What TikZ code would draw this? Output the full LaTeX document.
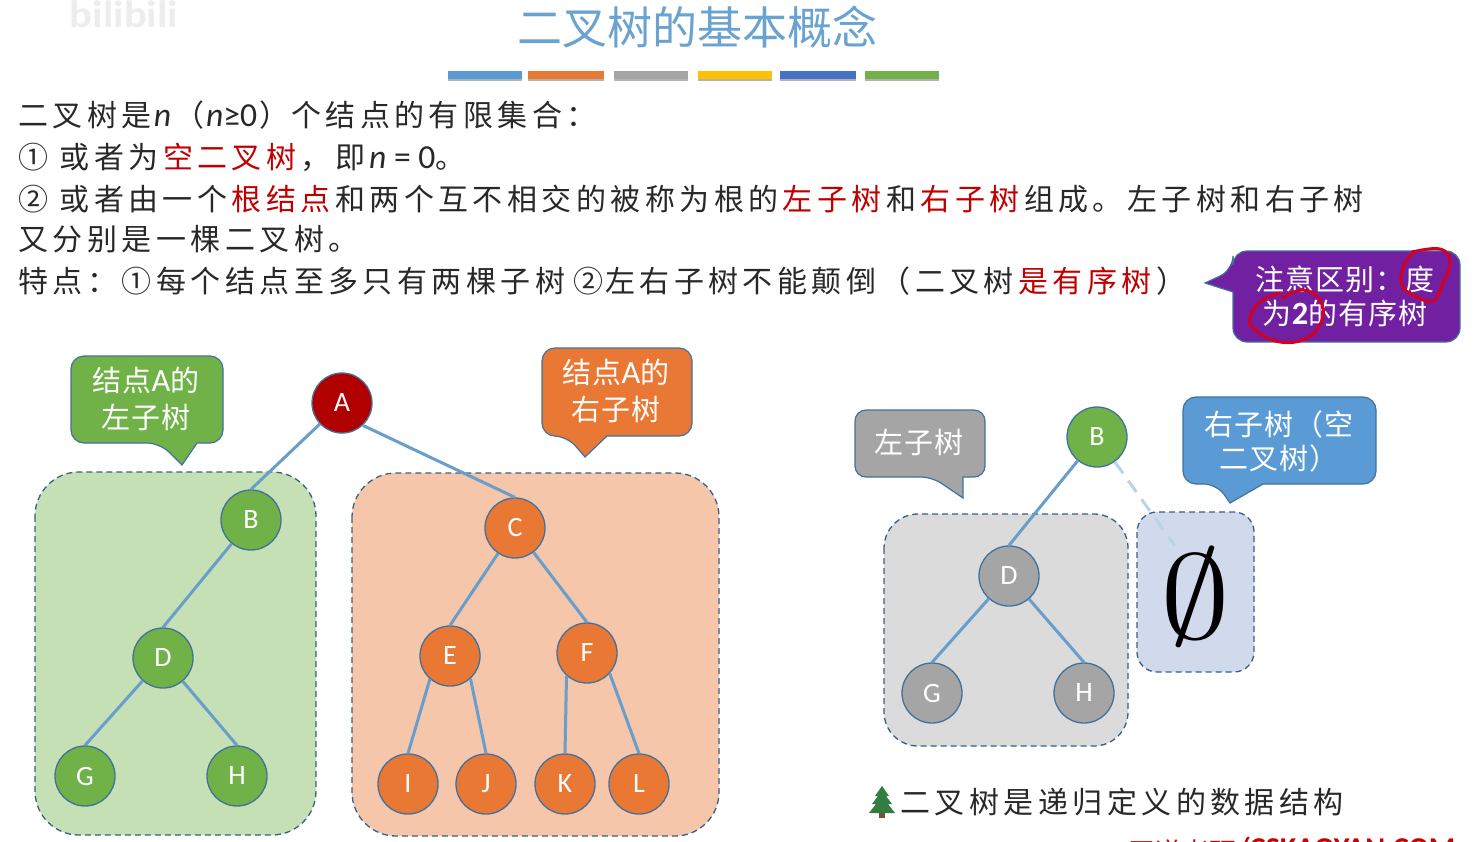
\documentclass[tikz,border=0pt]{standalone}
\usepackage{fontspec}
\usepackage{tikz}
\usetikzlibrary{calc}
\setmainfont{Noto Sans CJK SC}
\newfontfamily\bodyfont[LetterSpace=14.8]{Noto Sans CJK SC}
\newfontfamily\calloutfont[LetterSpace=3]{Noto Sans CJK SC}
\newfontfamily\latinfont[Scale=1.12]{Carlito}
\definecolor{titleblue}{RGB}{106, 162, 208}
\definecolor{edgeblue}{RGB}{104, 158, 204}
\definecolor{lineblue}{RGB}{65, 113, 156}
\definecolor{rootred}{RGB}{176, 0, 0}
\definecolor{keyred}{RGB}{192, 0, 0}
\definecolor{leftgreen}{RGB}{112, 178, 72}
\definecolor{rightorange}{RGB}{232, 120, 52}
\definecolor{nodegray}{RGB}{165, 165, 165}
\definecolor{calloutblue}{RGB}{91, 155, 213}
\definecolor{barblue}{RGB}{68, 114, 196}
\definecolor{baryellow}{RGB}{255, 192, 0}
\definecolor{emptyblue}{RGB}{208, 218, 236}
\definecolor{notepurple}{RGB}{112, 32, 160}
\definecolor{inkred}{RGB}{214, 0, 30}
\definecolor{treegreen}{RGB}{50, 125, 65}
\definecolor{trunkbrown}{RGB}{120, 80, 50}
\definecolor{bodyblack}{RGB}{40, 40, 40}
\tikzset{
  treenode/.style={circle, draw=lineblue, line width=1.3pt, minimum size=60pt, inner sep=0pt,
    text=white, font=\latinfont\fontsize{25}{25}\selectfont},
  treeedge/.style={edgeblue, line width=3pt},
  region/.style={draw=lineblue!85!black, dash pattern=on 6pt off 4pt, line width=1.3pt, rounded corners=#1},
  bubble/.style={draw=lineblue, line width=1.2pt},
  bubbletext/.style={text=white, align=center, font=\calloutfont\fontsize{29}{37}\selectfont},
  bodyline/.style={anchor=base west, text=bodyblack, font=\bodyfont\fontsize{30}{36}\selectfont},
  inkmark/.style={inkred, line width=3pt, line cap=round},
}
\newcommand{\key}[1]{\kern4.44pt\textcolor{keyred}{#1}\kern4.44pt}
\newcommand{\lat}[1]{{\latinfont #1}}

\begin{document}
\begin{tikzpicture}[x=1pt, y=-1pt]
  \useasboundingbox (0, 0) rectangle (1474, 841);

  % --- Title and colour bars ---
  \node[text=gray!14, xscale=1.12, font=\latinfont\bfseries\fontsize{34}{34}\selectfont] (mark) at (124, 14) {bilibili};
  \node[text=titleblue, font=\fontsize{45}{45}\selectfont] (title) at (697, 27) {二叉树的基本概念};
  \foreach \xa/\xb/\barcolor in {448/522/calloutblue, 528/604/rightorange, 614/688/nodegray,
      698/772/baryellow, 780/856/barblue, 865/939/leftgreen} {
    \fill[gray!60] (\xa, 74) rectangle (\xb, 81);
    \fill[\barcolor] (\xa, 71) rectangle (\xb, 79);
  }

  % --- Definition text ---
  \node[bodyline] (line1) at (15, 126) {二叉树是\kern2pt\lat{\itshape n}\kern3pt（\kern2pt\lat{\itshape n}\lat{≥0}\kern2pt）\kern2pt个结点的有限集合：};
  \node[bodyline] (line2) at (15, 168) {① 或者为\key{空二叉树}，即\kern4pt\lat{\itshape n}\lat{ = 0}。};
  \node[bodyline] (line3) at (15, 210) {② 或者由一个\key{根结点}和两个互不相交的被称为根的\key{左子树}和\key{右子树}组成。左子树和右子树};
  \node[bodyline] (line4) at (15, 250) {又分别是一棵二叉树。};
  \node[bodyline] (line5) at (15, 292) {特点：①每个结点至多只有两棵子树\kern8pt②\kern2pt左右子树不能颠倒（二叉树\key{是有序树}）};

  % --- Note with ink marks ---
  \filldraw[bubble, fill=notepurple] (1233, 292) [rounded corners=14] -- (1233, 342) -- (1460, 342)
    -- (1460, 251) -- (1233, 251) -- (1233, 270) [sharp corners] -- (1205, 283) -- cycle;
  \node[bubbletext] (note) at (1345, 296) {注意区别：度\\[-3pt]为\lat{\bfseries 2}的有序树};
  \draw[inkmark] plot[smooth, tension=0.7] coordinates {(1412, 252)
    (1440, 249) (1450, 262) (1443, 283) (1433, 301) (1413, 295) (1402, 285) (1403, 267) (1414, 251)};
  \draw[inkmark] plot[smooth, tension=0.7] coordinates {(1282, 298)
    (1303, 290) (1320, 300) (1322, 320) (1307, 338) (1280, 342) (1255, 330) (1250, 318) (1260, 302) (1280, 293)};

  % --- Subtree regions ---
  \filldraw[region=44, fill=leftgreen!40] (35, 472) rectangle (316, 835);
  \filldraw[region=44, fill=rightorange!42] (352, 473) rectangle (719, 836);
  \filldraw[region=34, fill=nodegray!40] (884, 514) rectangle (1128, 746);
  \filldraw[region=20, fill=emptyblue] (1137, 512) rectangle (1254, 672);

  % --- Left callouts ---
  \filldraw[bubble, fill=leftgreen] (197, 443) [rounded corners=13] -- (223, 443) -- (223, 356)
    -- (71, 356) -- (71, 443) -- (160, 443) [sharp corners] -- (182, 465) -- cycle;
  \node[bubbletext] (leftnote) at (146, 399) {结点\lat{A}的\\左子树};
  \filldraw[bubble, fill=rightorange] (607, 436) [rounded corners=13] -- (692, 436) -- (692, 348)
    -- (542, 348) -- (542, 436) -- (567, 436) [sharp corners] -- (585, 457) -- cycle;
  \node[bubbletext] (rightnote) at (616, 391) {结点\lat{A}的\\右子树};

  % --- Tree rooted at A ---
  \node[treenode, fill=rootred] (A) at (342, 403) {A};
  \foreach \name/\px/\py in {B/251/520, D/163/658, G/85/776, H/237/776}
    \node[treenode, fill=leftgreen] (\name) at (\px, \py) {\name};
  \foreach \name/\px/\py in {C/515/528, E/450/656, F/587/653, I/408/784, J/486/784, K/565/784, L/639/784}
    \node[treenode, fill=rightorange] (\name) at (\px, \py) {\name};
  \foreach \from/\to in {A/B, B/D, D/G, D/H, A.-47/C, C/E, C/F, E.229/I, E.-48/J, F.228/K, F.-42/L}
    \draw[treeedge] (\from) -- (\to.north);

  % --- Right callouts ---
  \filldraw[bubble, fill=nodegray] (963, 477) [rounded corners=11] -- (985, 477) -- (985, 410)
    -- (855, 410) -- (855, 477) -- (932, 477) [sharp corners] -- (963, 498) -- cycle;
  \node[bubbletext] (leftlabel) at (919, 442) {左子树};
  \filldraw[bubble, fill=calloutblue] (1263, 484) [rounded corners=13] -- (1376, 484) -- (1376, 397)
    -- (1183, 397) -- (1183, 484) -- (1217, 484) [sharp corners] -- (1230, 503) -- cycle;
  \node[bubbletext] (rightlabel) at (1279, 441) {右子树（空\\[-3pt]二叉树）};

  % --- Subtree rooted at B ---
  \node[treenode, fill=leftgreen] (B2) at (1097, 437) {B};
  \node[treenode, fill=nodegray] (D2) at (1009, 576) {D};
  \node[treenode, fill=nodegray] (G2) at (932, 693) {G};
  \node[treenode, fill=nodegray] (H2) at (1084, 693) {H};
  \foreach \from/\to in {B2/D2, D2/G2, D2/H2}
    \draw[treeedge] (\from) -- (\to.north);

  % --- Empty right subtree ---
  \coordinate (nil) at (1175, 546);
  \draw[treeedge, edgeblue!45, dash pattern=on 14pt off 9pt] (B2) -- (nil);
  \node[text=black, xscale=14, yscale=12] (empty) at (1195, 597) {$\emptyset$};

  % --- Footer text ---
  \node[bodyline] (recursive) at (897, 813) {二叉树是递归定义的数据结构};
  \fill[trunkbrown] (879, 810) rectangle (885, 818);
  \fill[treegreen] (882, 786) -- (889, 796) -- (886, 796) -- (892, 804) -- (888, 804) -- (895, 813)
    -- (869, 813) -- (876, 804) -- (872, 804) -- (878, 796) -- (875, 796) -- cycle;
  \node[anchor=base west, text=red!80!black, font=\fontsize{27}{27}\selectfont] (brand) at (1125, 858)
    {\raisebox{-4pt}{王道考研}\lat{\bfseries /CSKAOYAN.COM}};

\end{tikzpicture}
\end{document}
